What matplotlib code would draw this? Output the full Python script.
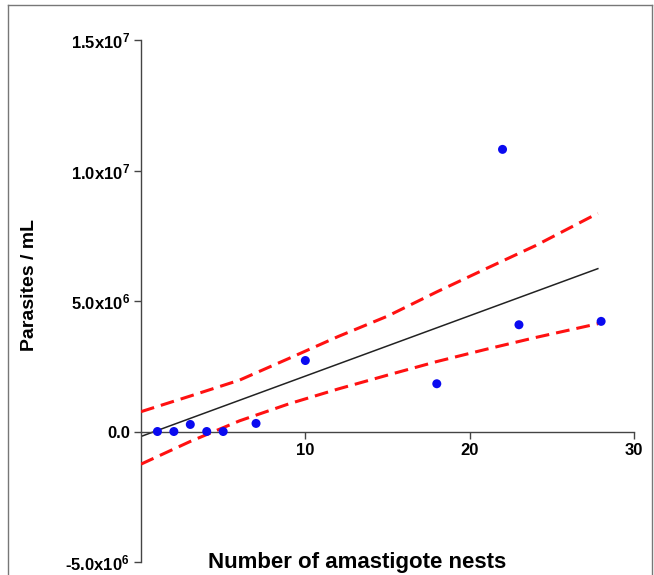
import matplotlib
matplotlib.use("Agg")
import matplotlib.pyplot as plt
from matplotlib.lines import Line2D

plt.rcParams['font.family'] = ['Liberation Sans', 'DejaVu Sans']
plt.rcParams['mathtext.fontset'] = 'custom'
plt.rcParams['mathtext.bf'] = 'Liberation Sans:bold'
plt.rcParams['mathtext.rm'] = 'Liberation Sans:bold'
plt.rcParams['mathtext.default'] = 'bf'

# ------------------------------------------------
# DATA
# ------------------------------------------------

nests = [1, 2, 3, 4, 5, 7, 10, 18, 22, 23, 28]
parasites = [0.0, 0.0, 0.27e6, 0.0, 0.0, 0.31e6, 2.72e6, 1.83e6, 10.81e6, 4.09e6, 4.22e6]

fit_x = [0, 27.8]
fit_y = [-0.19e6, 6.24e6]

band_x = [0, 3, 6, 9, 12, 15, 18, 21, 24, 27.8]
band_upper = [0.76e6, 1.36e6, 1.97e6, 2.80e6, 3.64e6, 4.42e6, 5.35e6, 6.24e6, 7.12e6, 8.36e6]
band_lower = [-1.25e6, -0.38e6, 0.41e6, 1.06e6, 1.63e6, 2.16e6, 2.68e6, 3.15e6, 3.60e6, 4.13e6]

y_ticks = [-5e6, 0, 5e6, 1e7, 1.5e7]
y_tick_labels = ['-5.0x10$^{6}$', '0.0', '5.0x10$^{6}$', '1.0x10$^{7}$', '1.5x10$^{7}$']
x_ticks = [10, 20, 30]

# ------------------------------------------------
# FIGURE
# ------------------------------------------------

fig = plt.figure(figsize=(6.54, 5.75), dpi=100)
ax = fig.add_axes([0.2156, 0.0226, 0.7538, 0.9078])

ax.plot(fit_x, fit_y, color='#222222', linewidth=1.1, zorder=2)

ax.plot(band_x, band_upper, color='#ff1111', linewidth=2.2,
        dashes=(4.5, 2.3), zorder=3)
ax.plot(band_x, band_lower, color='#ff1111', linewidth=2.2,
        dashes=(4.5, 2.3), zorder=3)

ax.scatter(nests, parasites, s=42, color='#0a0af0', zorder=4,
           edgecolors='none')

ax.set_xlim(0, 30)
ax.set_ylim(-5e6, 1.5e7)

ax.spines['top'].set_visible(False)
ax.spines['right'].set_visible(False)
ax.spines['bottom'].set_position(('data', 0))
for side in ['left', 'bottom']:
    ax.spines[side].set_color('#444444')
    ax.spines[side].set_linewidth(1.0)

ax.set_xticks(x_ticks)
ax.set_xticklabels([str(t) for t in x_ticks], fontsize=12, fontweight='bold')
ax.set_yticks(y_ticks)
ax.set_yticklabels(y_tick_labels, fontsize=12, fontweight='bold')
ax.tick_params(axis='both', direction='out', length=5, width=1.0,
               color='#444444', pad=3)

ax.set_ylabel('Parasites / mL', fontsize=14, fontweight='bold')
ax.yaxis.set_label_coords(-0.209, 0.531)
ax.set_xlabel('Number of amastigote nests', fontsize=16, fontweight='bold')
ax.xaxis.set_label_coords(0.438, 0.02)

# thin frame round the picture
frame_color = '#777777'
fig.add_artist(Line2D([8 / 654, 8 / 654], [0, 1 - 5 / 575],
                      transform=fig.transFigure, color=frame_color, lw=1))
fig.add_artist(Line2D([8 / 654, 652 / 654], [1 - 5 / 575, 1 - 5 / 575],
                      transform=fig.transFigure, color=frame_color, lw=1))
fig.add_artist(Line2D([652 / 654, 652 / 654], [0, 1 - 5 / 575],
                      transform=fig.transFigure, color=frame_color, lw=1))

fig.savefig('out.png', dpi=100)
